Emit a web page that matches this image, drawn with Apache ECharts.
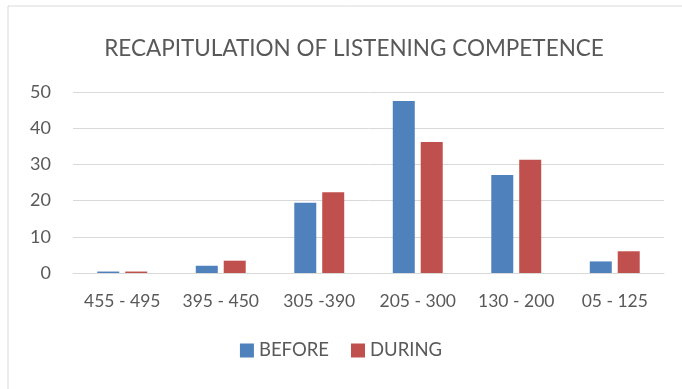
<!DOCTYPE html>
<html>
<head>
<meta charset="utf-8">
<script src="https://cdn.jsdelivr.net/npm/echarts@6/dist/echarts.min.js"></script>
<style>
  html, body { margin: 0; padding: 0; background: #ffffff; }
  #chart { width: 682px; height: 389px; }
</style>
</head>
<body>
<div id="chart"></div>
<script>
// Score ranges and the number of students in each, before and during the programme
const categories = ['455 - 495', '395 - 450', '305 -390', '205 - 300', '130 - 200', '05 - 125'];
const beforeValues = [0.4, 2.0, 19.4, 47.5, 27.1, 3.2];
const duringValues = [0.4, 3.4, 22.3, 36.2, 31.3, 6.0];
const yTicks = { min: 0, max: 50, interval: 10 };

const textColor = '#595959';
const fontFamily = 'Lato, "Open Sans", sans-serif';

const chart = echarts.init(document.getElementById('chart'), null, { renderer: 'canvas' });
chart.setOption({
  backgroundColor: '#ffffff',
  animation: false,
  graphic: [{
    type: 'rect',
    shape: { x: 8, y: 6, width: 700, height: 400 },
    style: { fill: 'none', stroke: '#d9d9d9', lineWidth: 1 },
    silent: true,
    z: -1
  }],
  title: {
    text: 'RECAPITULATION OF LISTENING COMPETENCE',
    left: 349,
    textAlign: 'center',
    top: 32,
    textStyle: { color: textColor, fontSize: 22.5, fontWeight: 'normal', fontFamily: fontFamily }
  },
  legend: {
    bottom: 24,
    left: 'center',
    itemWidth: 14,
    itemHeight: 14,
    itemGap: 22,
    icon: 'rect',
    textStyle: { color: textColor, fontSize: 18.5, fontFamily: fontFamily }
  },
  grid: { left: 73, right: 18, top: 92, bottom: 116 },
  xAxis: {
    type: 'category',
    data: categories,
    axisLine: { lineStyle: { color: '#d9d9d9', width: 1 } },
    axisTick: { show: false },
    axisLabel: { interval: 0, color: textColor, fontSize: 17.5, fontFamily: fontFamily, margin: 19 }
  },
  yAxis: {
    type: 'value',
    min: yTicks.min,
    max: yTicks.max,
    interval: yTicks.interval,
    axisLine: { show: false },
    axisTick: { show: false },
    axisLabel: { color: textColor, fontSize: 18, fontFamily: fontFamily, margin: 22 },
    splitLine: { lineStyle: { color: '#d9d9d9', width: 1 } }
  },
  series: [
    {
      name: 'BEFORE',
      type: 'bar',
      data: beforeValues,
      barWidth: 22,
      barGap: '27%',
      itemStyle: { color: '#4f81bd' }
    },
    {
      name: 'DURING',
      type: 'bar',
      data: duringValues,
      barWidth: 22,
      itemStyle: { color: '#c0504d' }
    }
  ]
});
</script>
</body>
</html>
